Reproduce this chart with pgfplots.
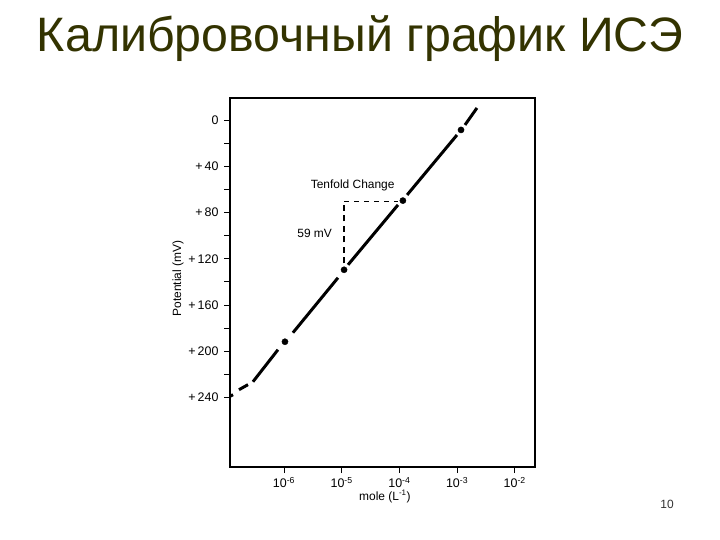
\documentclass[border=0pt]{standalone}
\usepackage{fontspec}
\setmainfont{Liberation Sans}
\usepackage{pgfplots}
\pgfplotsset{compat=1.18}
\definecolor{titleolive}{RGB}{51,51,0}

\begin{document}
\begin{tikzpicture}
\path[use as bounding box, fill=white] (0bp,0bp) rectangle (720bp,540bp);
\node[anchor=base, text=titleolive, font=\fontsize{48.5}{50}\selectfont] at (360bp,488bp) {Калибровочный график ИСЭ};
\node[font=\fontsize{12}{14}\selectfont, text=black!80] at (667bp,36bp) {10};

\begin{axis}[
    at={(230bp,73bp)}, anchor=south west,
    scale only axis,
    width=305bp, height=369bp,
    clip=false,
    xmode=log,
    xmin=1.16e-7, xmax=2.24e-2,
    y dir=reverse,
    ymin=-19, ymax=300,
    axis line style={line width=1.6pt},
    tick style={black, line width=0.9pt},
    tick align=outside,
    major tick length=6bp, minor tick length=6bp,
    xtick={1e-6,1e-5,1e-4,1e-3,1e-2},
    xticklabels={10\textsuperscript{-6},10\textsuperscript{-5},10\textsuperscript{-4},10\textsuperscript{-3},10\textsuperscript{-2}},
    xminorticks=false,
    xtick pos=lower, xticklabel pos=lower,
    ytick={0,40,80,120,160,200,240},
    yticklabels={0,+\,40,+\,80,+\,120,+\,160,+\,200,+\,240},
    minor ytick={20,60,100,140,180,220},
    ytick pos=left,
    ticklabel style={font=\fontsize{12.5}{14}\selectfont, text=black},
    xticklabel style={yshift=-1bp},
    yticklabel style={xshift=-2bp},
]

% calibration curve, drawn in pieces as in the original
\addplot[black, line width=3pt] coordinates {(1.16e-7,238.8) (1.31e-7,237.5)};
\addplot[black, line width=3pt] coordinates {(1.66e-7,233.2) (2.38e-7,228.8)};
\addplot[black, line width=3pt] coordinates {(2.90e-7,226.3) (7.87e-7,198.6)};
\addplot[black, line width=3pt] coordinates {(1.43e-6,183.9) (8.63e-6,136.4)};
\addplot[black, line width=3pt] coordinates {(1.29e-5,125.2) (9.46e-5,73.4)};
\addplot[black, line width=3pt] coordinates {(1.36e-4,64.8) (9.95e-4,13.0)};
\addplot[black, line width=3pt] coordinates {(1.37e-3,4.3) (2.21e-3,-10.4)};
\addplot[only marks, mark=*, mark size=3.1pt, black] coordinates {
    (1.04e-6,191.7) (1.10e-5,129.5) (1.15e-4,69.7) (1.17e-3,8.6)
};

% tenfold change
\addplot[black, line width=1.5pt, dash pattern=on 6bp off 4.5bp] coordinates {(1.10e-5,124) (1.10e-5,70.5)};
\addplot[black, line width=0.9pt, dash pattern=on 5bp off 5bp] coordinates {(1.10e-5,70.5) (9.4e-5,70.5)};

\node[font=\fontsize{12}{14}\selectfont, text=black] at (axis cs:1.55e-5,56.7) {Tenfold Change};
\node[font=\fontsize{12}{14}\selectfont, text=black] at (axis cs:3.40e-6,97.8) {59 mV};
\node[rotate=90, font=\fontsize{12}{14}\selectfont, text=black] at (axis description cs:-0.170,0.511) {Potential (mV)};
\node[font=\fontsize{12}{14}\selectfont, text=black] at (axis description cs:0.508,-0.080) {mole (L\textsuperscript{-1})};

\end{axis}
\end{tikzpicture}
\end{document}
